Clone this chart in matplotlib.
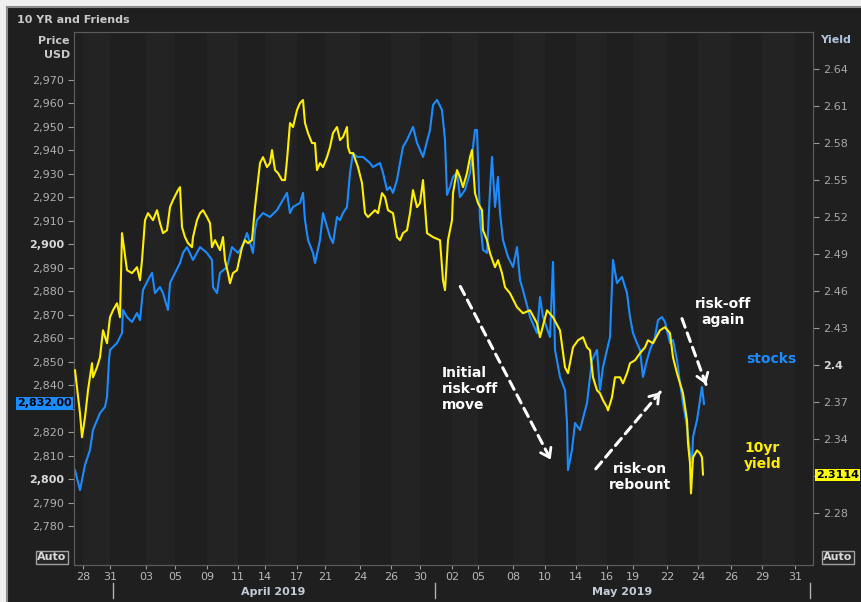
import numpy as np
import matplotlib.pyplot as plt
from matplotlib.lines import Line2D
from matplotlib.patches import Rectangle, FancyArrowPatch

# session time (chart units)
stocks_t = [1, 6, 11, 16, 19, 26, 31, 33, 35, 36,
            43, 48, 49, 53, 58, 63, 66, 69, 74, 78,
            81, 86, 89, 94, 96, 101, 106, 109, 113, 119,
            126, 133, 138, 139, 143, 146, 153, 158, 164, 168,
            173, 179, 181, 183, 189, 196, 203, 209, 213, 216,
            219, 226, 229, 231, 234, 239, 241, 246, 249, 253,
            256, 259, 263, 266, 269, 273, 276, 279, 283, 289,
            296, 299, 306, 309, 313, 316, 319, 323, 326, 329,
            333, 339, 343, 346, 349, 356, 359, 363, 368, 371,
            373, 376, 379, 383, 386, 391, 396, 401, 403, 406,
            409, 413, 416, 418, 421, 424, 426, 429, 434, 439,
            443, 446, 449, 456, 463, 466, 469, 476, 479, 481,
            486, 491, 493, 494, 498, 501, 506, 513, 518, 523,
            526, 529, 533, 536, 539, 543, 548, 553, 556, 559,
            563, 566, 569, 573, 576, 581, 584, 588, 591, 596,
            599, 603, 606, 609, 613, 616, 618, 619, 623, 626,
            628, 630]
stocks = [2803.8, 2795.3, 2806.0, 2812.4, 2820.9, 2828.1, 2830.7, 2834.9, 2850.7, 2855.0,
          2857.9, 2862.2, 2872.0, 2869.0, 2866.9, 2870.7, 2867.7, 2880.5, 2884.8, 2887.8,
          2879.2, 2881.8, 2879.2, 2872.0, 2883.5, 2887.8, 2892.0, 2896.3, 2898.8, 2893.3,
          2898.8, 2896.3, 2893.3, 2881.8, 2879.2, 2887.8, 2890.3, 2898.8, 2896.3, 2898.8,
          2904.8, 2896.3, 2906.1, 2910.3, 2913.3, 2911.6, 2914.6, 2918.9, 2921.9, 2913.3,
          2915.9, 2917.6, 2921.9, 2910.3, 2901.8, 2896.3, 2892.0, 2901.8, 2913.3, 2907.4,
          2903.1, 2900.5, 2911.6, 2910.3, 2913.3, 2915.9, 2930.4, 2938.9, 2937.2, 2937.2,
          2934.6, 2932.9, 2934.6, 2930.4, 2923.1, 2924.4, 2921.9, 2927.4, 2934.6, 2941.5,
          2944.4, 2950.0, 2943.2, 2940.2, 2937.2, 2948.7, 2959.3, 2961.5, 2957.2, 2944.4,
          2921.0, 2924.4, 2928.7, 2930.4, 2920.1, 2923.1, 2930.4, 2948.7, 2948.7, 2910.3,
          2897.6, 2896.3, 2923.1, 2937.2, 2915.9, 2928.7, 2913.3, 2901.8, 2894.6, 2890.3,
          2898.8, 2884.8, 2880.5, 2869.0, 2862.2, 2877.5, 2869.0, 2860.5, 2892.5, 2855.0,
          2843.5, 2837.9, 2823.9, 2803.8, 2812.4, 2823.9, 2820.9, 2832.4, 2850.7, 2855.0,
          2837.9, 2847.7, 2855.0, 2860.5, 2893.3, 2883.5, 2886.1, 2879.2, 2869.0, 2862.2,
          2857.9, 2855.0, 2843.5, 2850.7, 2855.0, 2860.5, 2867.7, 2869.0, 2866.9, 2857.9,
          2859.2, 2850.7, 2840.9, 2832.4, 2822.2, 2811.1, 2806.8, 2817.9, 2825.1, 2833.7,
          2839.2, 2832.0]

yield_t = [1, 3, 6, 8, 11, 14, 18, 19, 23, 26,
           29, 33, 36, 39, 43, 46, 48, 53, 58, 63,
           66, 68, 71, 74, 79, 83, 86, 89, 93, 96,
           99, 104, 106, 108, 111, 114, 118, 119, 123, 126,
           129, 133, 136, 138, 141, 146, 149, 151, 154, 156,
           159, 163, 168, 171, 174, 178, 181, 184, 186, 189,
           193, 196, 198, 201, 204, 208, 211, 213, 216, 219,
           223, 226, 229, 231, 234, 238, 241, 243, 246, 249,
           253, 256, 259, 263, 266, 269, 273, 274, 276, 279,
           284, 288, 291, 294, 298, 301, 304, 308, 311, 314,
           319, 323, 326, 329, 333, 336, 339, 343, 346, 349,
           353, 359, 366, 369, 371, 374, 378, 379, 383, 386,
           389, 393, 396, 398, 401, 404, 408, 409, 413, 416,
           421, 424, 428, 431, 436, 443, 449, 456, 463, 466,
           473, 479, 486, 491, 494, 499, 504, 509, 513, 516,
           519, 523, 526, 529, 533, 534, 538, 541, 546, 549,
           553, 556, 561, 566, 571, 574, 579, 586, 591, 596,
           599, 603, 606, 609, 613, 614, 616, 617, 619, 623,
           626, 628, 629]
yields = [2.3959, 2.3821, 2.3610, 2.3416, 2.3578, 2.3797, 2.4016, 2.3902, 2.3983, 2.4064,
          2.4283, 2.4178, 2.4389, 2.4445, 2.4502, 2.4389, 2.5070, 2.4770, 2.4746, 2.4794,
          2.4689, 2.4851, 2.5175, 2.5232, 2.5175, 2.5256, 2.5151, 2.5070, 2.5094, 2.5281,
          2.5338, 2.5419, 2.5443, 2.5119, 2.5038, 2.4989, 2.4956, 2.5038, 2.5175, 2.5232,
          2.5256, 2.5200, 2.5151, 2.4956, 2.5013, 2.4932, 2.5038, 2.4851, 2.4746, 2.4664,
          2.4746, 2.4770, 2.4956, 2.5013, 2.4989, 2.5013, 2.5281, 2.5500, 2.5638, 2.5686,
          2.5605, 2.5638, 2.5743, 2.5581, 2.5557, 2.5500, 2.5500, 2.5662, 2.5962, 2.5930,
          2.6067, 2.6124, 2.6149, 2.5962, 2.5881, 2.5800, 2.5800, 2.5581, 2.5638, 2.5605,
          2.5686, 2.5767, 2.5881, 2.5930, 2.5824, 2.5849, 2.5930, 2.5767, 2.5719, 2.5719,
          2.5605, 2.5475, 2.5232, 2.5200, 2.5232, 2.5256, 2.5232, 2.5394, 2.5362, 2.5256,
          2.5232, 2.5038, 2.5013, 2.5070, 2.5094, 2.5232, 2.5419, 2.5281, 2.5313, 2.5500,
          2.5070, 2.5038, 2.5013, 2.4689, 2.4608, 2.5013, 2.5175, 2.5394, 2.5581, 2.5524,
          2.5443, 2.5557, 2.5686, 2.5743, 2.5394, 2.5313, 2.5256, 2.5094, 2.5013, 2.4908,
          2.4794, 2.4851, 2.4746, 2.4632, 2.4583, 2.4470, 2.4421, 2.4445, 2.4340, 2.4227,
          2.4445, 2.4389, 2.4283, 2.3983, 2.3935, 2.4145, 2.4202, 2.4227, 2.4145, 2.4121,
          2.3902, 2.3797, 2.3772, 2.3716, 2.3659, 2.3634, 2.3740, 2.3902, 2.3902, 2.3853,
          2.3935, 2.4016, 2.4040, 2.4097, 2.4145, 2.4202, 2.4178, 2.4283, 2.4308, 2.4259,
          2.4064, 2.3935, 2.3853, 2.3772, 2.3553, 2.3367, 2.3205, 2.2961, 2.3253, 2.3310,
          2.3286, 2.3253, 2.3114]

day_ticks = [9, 36, 72, 101, 133, 164, 191, 223, 251, 286, 317, 346,
             378, 404, 439, 471, 502, 533, 559, 593, 624, 657, 688, 721]
day_labels = ["28", "31", "03", "05", "09", "11", "14", "17", "21", "24", "26", "30",
              "02", "05", "08", "10", "14", "16", "19", "22", "24", "26", "29", "31"]
price_ticks = list(range(2780, 2971, 10))
yield_ticks = [2.28, 2.31, 2.34, 2.37, 2.40, 2.43, 2.46, 2.49, 2.52, 2.55, 2.58, 2.61, 2.64]
last_price = 2832.00
last_yield = 2.3114

BLUE = "#1a8cff"
YELLOW = "#ffee00"
W, H = 862, 602


def fx(px):
    return px / W


def fy(py):
    return 1 - py / H


fig = plt.figure(figsize=(W / 100, H / 100), dpi=100, facecolor="#f0f0f0")
fig.add_artist(Rectangle((fx(7), -0.01), 1.02 - fx(7), fy(7) + 0.01, transform=fig.transFigure,
                         facecolor="#1f1f1f", edgecolor="none", zorder=-5))
fig.add_artist(Line2D([fx(7), 1], [fy(7), fy(7)], color="#8c8c8c", lw=1.5, zorder=-4))
fig.add_artist(Line2D([fx(7), fx(7)], [0, fy(7)], color="#8c8c8c", lw=1.5, zorder=-4))

ax = fig.add_axes([fx(74), fy(565), fx(813) - fx(74), fy(32) - fy(565)])
ax.set_facecolor("#1f1f1f")
ax.set_xlim(0, 739)
ax.set_ylim(2763.4, 2990.4)

# alternating day bands
edges = [0] + day_ticks + [739]
for i in range(len(edges) - 1):
    if i % 2 == 1:
        ax.axvspan(edges[i], edges[i + 1], color="#232323", lw=0, zorder=0)

ax.plot(stocks_t, stocks, color=BLUE, lw=1.5, zorder=3)

ax2 = ax.twinx()
ax2.set_ylim(2.2381, 2.670)
ax2.plot(yield_t, yields, color=YELLOW, lw=1.5, zorder=3)

for a in (ax, ax2):
    for s in a.spines.values():
        s.set_color("#5c5c5c")

ax.set_xticks(day_ticks)
ax.set_xticklabels(day_labels)
ax.tick_params(axis="x", length=3, color="#9a9a9a", labelcolor="#b8b8b8", labelsize=8, pad=2)

# labels hidden behind the last-value boxes are left blank
ax.set_yticks(price_ticks)
ax.set_yticklabels(["" if v == 2830 else "{:,}".format(v) for v in price_ticks])
ax.tick_params(axis="y", length=4, color="#9a9a9a", labelcolor="#b0b0b0", labelsize=8, pad=3)
for lab, v in zip(ax.get_yticklabels(), price_ticks):
    if v in (2800, 2900):
        lab.set_fontweight("bold")
        lab.set_color("#d8d8d8")

ax2.set_yticks(yield_ticks)
ax2.set_yticklabels(["" if abs(v - 2.31) < 1e-9 else ("%.2f" % v).rstrip("0")
                     for v in yield_ticks])
ax2.tick_params(axis="y", length=4, color="#9a9a9a", labelcolor="#a8a8a8", labelsize=8, pad=3)
for lab, v in zip(ax2.get_yticklabels(), yield_ticks):
    if abs(v - 2.40) < 1e-9:
        lab.set_fontweight("bold")
        lab.set_color("#d8d8d8")

# header texts
fig.text(fx(17), fy(20), "10 YR and Friends", fontsize=8, fontweight="bold",
         color="#c8c8c8", ha="left", va="center")
fig.text(fx(70), fy(48), "Price\nUSD", fontsize=8, fontweight="bold", color="#c8c8c8",
         ha="right", va="center", linespacing=1.5)
fig.text(fx(820), fy(40), "Yield", fontsize=8, fontweight="bold", color="#b0c4de",
         ha="left", va="center")

# last-value boxes
fig.text(fx(72), fy(403.5), "{:,.2f}".format(last_price), fontsize=8, fontweight="bold",
         color="black", ha="right", va="center",
         bbox=dict(boxstyle="square,pad=0.12", fc=BLUE, ec="none"))
fig.text(fx(816), fy(475), "%.4f" % last_yield, fontsize=8, fontweight="bold",
         color="black", ha="left", va="center",
         bbox=dict(boxstyle="square,pad=0.12", fc="#ffff00", ec="none"))

for px in (52, 838):
    fig.text(fx(px), fy(557.5), "Auto", fontsize=8, fontweight="bold", color="#d8d8d8",
             ha="center", va="center",
             bbox=dict(boxstyle="square,pad=0.12", fc="#262626", ec="#a0a0a0", lw=1))

# month row
for px in (113, 435, 810):
    fig.add_artist(Line2D([fx(px), fx(px)], [fy(583), fy(598)], color="#b0b0b0", lw=1))
fig.text(fx(273), fy(592), "April 2019", fontsize=8, fontweight="bold", color="#c4ccd8",
         ha="center", va="center")
fig.text(fx(622), fy(592), "May 2019", fontsize=8, fontweight="bold", color="#c4ccd8",
         ha="center", va="center")


# annotations
def dashed_arrow(x0, y0, x1, y1):
    fig.add_artist(FancyArrowPatch((fx(x0), fy(y0)), (fx(x1), fy(y1)),
                                   transform=fig.transFigure, arrowstyle="-",
                                   linestyle=(0, (3, 2)), lw=2.2, color="white"))
    d = np.array([x1 - x0, y1 - y0], dtype=float)
    d /= np.hypot(*d)
    hx, hy = x1 - 10 * d[0], y1 - 10 * d[1]
    fig.add_artist(FancyArrowPatch((fx(hx), fy(hy)), (fx(x1), fy(y1)),
                                   transform=fig.transFigure,
                                   arrowstyle="->,head_length=0.5,head_width=0.35",
                                   mutation_scale=12, lw=2.0, color="white"))


dashed_arrow(459, 284, 552, 462)
dashed_arrow(594, 471, 662, 390)
dashed_arrow(681, 316, 707, 387)

fig.text(fx(442), fy(389), "Initial\nrisk-off\nmove", fontsize=10, fontweight="bold",
         color="white", ha="left", va="center", linespacing=1.15)
fig.text(fx(640), fy(477), "risk-on\nrebount", fontsize=10, fontweight="bold",
         color="white", ha="center", va="center", linespacing=1.15)
fig.text(fx(723), fy(312), "risk-off\nagain", fontsize=10, fontweight="bold",
         color="white", ha="center", va="center", linespacing=1.15)
fig.text(fx(771), fy(359), "stocks", fontsize=10, fontweight="bold",
         color=BLUE, ha="center", va="center")
fig.text(fx(744), fy(456), "10yr\nyield", fontsize=10, fontweight="bold",
         color=YELLOW, ha="left", va="center", linespacing=1.1)

fig.savefig("out.png", dpi=100, facecolor=fig.get_facecolor())
